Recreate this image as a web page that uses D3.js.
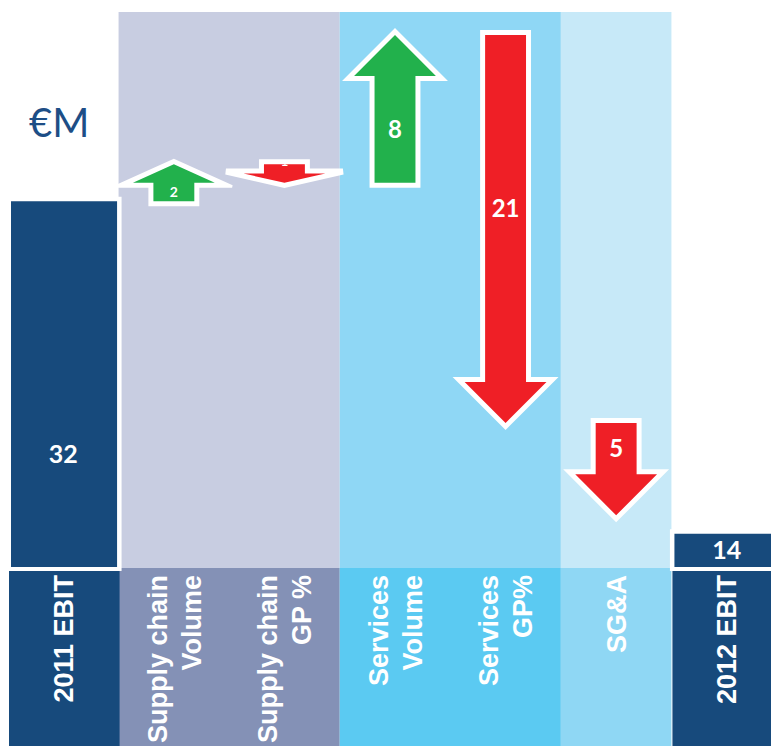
<!DOCTYPE html>
<html>
<head>
<meta charset="utf-8">
<script src="https://cdn.jsdelivr.net/npm/d3@7"></script>
<style>
  html, body { margin: 0; padding: 0; background: #ffffff; }
  svg { display: block; }
</style>
</head>
<body>
<svg id="chart" width="771" height="746"></svg>
<script>
// EBIT bridge 2011 -> 2012, in € millions
const categories = ["2011 EBIT", "Supply chain\nVolume", "Supply chain\nGP %", "Services\nVolume", "Services\nGP%", "SG&A", "2012 EBIT"];
const kinds      = ["total", "delta", "delta", "delta", "delta", "delta", "total"];
const values     = [32, 2, -1, 8, -21, -5, 14];

// driver groups shaded behind the bridge steps
const groupNames   = ["Supply chain", "Services", "SG&A"];
const groupMembers = [[1, 2], [3, 4], [5]];

const unitLabel = "€M";

// ---- styles ----
const navy = "#174a7c";
const upColor = "#22b14c", downColor = "#ef1f26";
const groupFill = {
  "Supply chain": { top: "#c8cde1", strip: "#8491b6" },
  "Services":     { top: "#8fd7f5", strip: "#5bcaf2" },
  "SG&A":         { top: "#c7e9f8", strip: "#8fd7f4" }
};
const numFont = "Lato, 'Open Sans', sans-serif";
const catFont = "'Liberation Sans', Arial, sans-serif";

const W = 771, H = 746;
const svg = d3.select("#chart");

// ---- scales ----
const x = d3.scaleBand().domain(categories).range([8, 782]).padding(0);
const bw = x.bandwidth();
const y = d3.scaleLinear().domain([12.2, 41]).range([567, 35]);
const panelTop = 12, panelStrip = 568, totalStrip = 571;

// running totals for the bridge steps
let running = values[0];
const steps = categories.map((c, i) => {
  if (kinds[i] === "total") return { c, i, v: values[i], kind: "total" };
  const start = running;
  running += values[i];
  return { c, i, v: values[i], kind: "delta", start, end: running };
});

// ---- group panels ----
groupNames.forEach((g, gi) => {
  const m = groupMembers[gi];
  const x0 = x(categories[m[0]]);
  const x1 = x(categories[m[m.length - 1]]) + bw;
  svg.append("rect").attr("x", x0).attr("y", panelTop)
    .attr("width", x1 - x0).attr("height", panelStrip - panelTop)
    .attr("fill", groupFill[g].top);
  svg.append("rect").attr("x", x0).attr("y", panelStrip)
    .attr("width", x1 - x0).attr("height", H - panelStrip)
    .attr("fill", groupFill[g].strip);
});

// ---- total bars ----
steps.filter(d => d.kind === "total").forEach(d => {
  const x0 = x(d.c) + 3, x1 = x(d.c) + bw - 1.5;
  const top = y(d.v), bot = y.range()[0];
  svg.append("rect").attr("x", x0 - 4.5).attr("y", top - 4.5)
    .attr("width", x1 - x0 + 9).attr("height", bot - top + 8.5).attr("fill", "#ffffff");
  svg.append("rect").attr("x", x0).attr("y", top)
    .attr("width", x1 - x0).attr("height", bot - top).attr("fill", navy);
  svg.append("rect").attr("x", x(d.c) + 1).attr("y", totalStrip)
    .attr("width", bw).attr("height", H - totalStrip).attr("fill", navy);
  const h = bot - top;
  const ly = h > 100 ? top + h * 0.69 : top + h / 2;
  svg.append("text").attr("x", x(d.c) + bw / 2).attr("y", ly)
    .attr("dy", "0.36em").attr("text-anchor", "middle")
    .attr("font-family", numFont).attr("font-weight", 700).attr("font-size", 25)
    .attr("fill", "#ffffff").text(d.v);
});

// ---- arrow geometry ----
function arrowPoints(cx, y0, y1, w) {
  const dir = y1 > y0 ? 1 : -1;
  const len = Math.abs(y1 - y0);
  const s = w / 2;
  const head = Math.min(w, len) / 2;
  const yb = y1 - dir * head;
  return [
    [cx - s / 2, y0], [cx + s / 2, y0], [cx + s / 2, yb], [cx + w / 2, yb],
    [cx, y1], [cx - w / 2, yb], [cx - s / 2, yb]
  ];
}

// outward offset outline with clipped mitres
function outline(pts, d, limit) {
  const n = pts.length;
  let area = 0;
  for (let i = 0; i < n; i++) {
    const p = pts[i], q = pts[(i + 1) % n];
    area += p[0] * q[1] - q[0] * p[1];
  }
  const sg = area > 0 ? 1 : -1;
  const unit = (a, b) => { const dx = b[0] - a[0], dy = b[1] - a[1], l = Math.hypot(dx, dy); return [dx / l, dy / l]; };
  const dot = (a, b) => a[0] * b[0] + a[1] * b[1];
  const out = [];
  for (let i = 0; i < n; i++) {
    const P = pts[(i - 1 + n) % n], V = pts[i], N = pts[(i + 1) % n];
    const u1 = unit(P, V), u2 = unit(V, N);
    const n1 = [sg * u1[1], -sg * u1[0]], n2 = [sg * u2[1], -sg * u2[0]];
    const k = 1 + dot(n1, n2);
    const m = [(n1[0] + n2[0]) * d / k, (n1[1] + n2[1]) * d / k];
    const mLen = Math.hypot(m[0], m[1]);
    const convex = (u1[0] * u2[1] - u1[1] * u2[0]) * sg > 0;
    if (convex && mLen > limit) {
      const bl = Math.hypot(n1[0] + n2[0], n1[1] + n2[1]);
      const b = [(n1[0] + n2[0]) / bl, (n1[1] + n2[1]) / bl];
      const t = (limit - d * dot(n1, b)) / dot(u1, b);
      const s = (limit - d * dot(n2, b)) / dot(u2, b);
      out.push([V[0] + n1[0] * d + u1[0] * t, V[1] + n1[1] * d + u1[1] * t]);
      out.push([V[0] + n2[0] * d + u2[0] * s, V[1] + n2[1] * d + u2[1] * s]);
    } else {
      out.push([V[0] + m[0], V[1] + m[1]]);
    }
  }
  return out;
}

const line = d3.line().curve(d3.curveLinearClosed);
const defs = svg.append("defs");

// ---- delta arrows ----
steps.filter(d => d.kind === "delta").forEach(d => {
  const cx = x(d.c) + bw / 2;
  const y0 = y(d.start), y1 = y(d.end);
  const w = bw * 0.74;
  const pts = arrowPoints(cx, y0, y1, w);
  svg.append("path").attr("d", line(outline(pts, 5, 18))).attr("fill", "#ffffff");
  svg.append("path").attr("d", line(pts)).attr("fill", d.v > 0 ? upColor : downColor);

  const clipId = "clip-" + d.i;
  defs.append("clipPath").attr("id", clipId).append("path").attr("d", line(pts));

  const len = Math.abs(y1 - y0);
  const fs = Math.max(13, Math.min(24, len * 0.38));
  const shaftEnd = pts[2][1];
  const shaftLen = Math.abs(shaftEnd - y0);
  let ly, dy;
  if (shaftLen < fs) { ly = Math.min(y0, shaftEnd) + 1.5; dy = "0"; }
  else { ly = (y0 + shaftEnd) / 2; dy = "0.36em"; }
  svg.append("text").attr("clip-path", `url(#${clipId})`)
    .attr("x", cx).attr("y", ly).attr("dy", dy).attr("text-anchor", "middle")
    .attr("font-family", numFont).attr("font-weight", 700).attr("font-size", fs)
    .attr("fill", "#ffffff").text(Math.abs(d.v));
});

// ---- category labels (rotated, reading upwards) ----
const lineGap = 34, labelEnd = 575, catSize = 27;
categories.forEach(c => {
  const lines = c.split("\n");
  const cx = x(c) + bw / 2;
  const t = svg.append("text")
    .attr("transform", `translate(${cx},${labelEnd}) rotate(-90)`)
    .attr("text-anchor", "end")
    .attr("font-family", catFont).attr("font-weight", 700).attr("font-size", catSize)
    .attr("fill", "#ffffff");
  lines.forEach((ln, li) => {
    const off = (li - (lines.length - 1) / 2) * lineGap + catSize * 0.36;
    t.append("tspan").attr("x", 0).attr("y", off).text(ln);
  });
});

// ---- unit label ----
svg.append("text").attr("x", 29).attr("y", 137)
  .attr("font-family", numFont).attr("font-size", 40)
  .attr("fill", "#1d4e86").text(unitLabel);
</script>
</body>
</html>
